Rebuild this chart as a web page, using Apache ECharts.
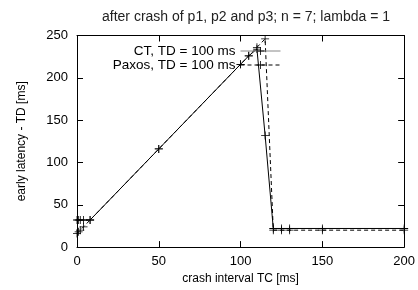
<!DOCTYPE html>
<html><head><meta charset="utf-8">
<script src="https://cdn.jsdelivr.net/npm/echarts@6/dist/echarts.min.js"></script>
<style>html,body{margin:0;padding:0;background:#fff}#c{width:418px;height:290px}</style>
</head><body><div id="c"></div>
<script>
const titleText = 'after crash of p1, p2 and p3; n = 7; lambda = 1';
const xName = 'crash interval TC [ms]';
const yName = 'early latency - TD [ms]';
const crashInterval = [0, 1, 2, 4, 8, 50, 100, 105, 110, 115, 120, 125, 130, 150, 200];
const ctLatency = [32, 32, 32, 32, 32, 116, 216, 226, 234, 132, 22, 22, 22, 22, 22];
const paxosLatency = [16, 18, 20, 24, 32, 116, 216, 226, 236, 246, 20, 20, 20, 20, 20];
const seriesNames = ['CT, TD = 100 ms', 'Paxos, TD = 100 ms'];
const xTicks = [0, 50, 100, 150, 200];
const yTicks = [0, 50, 100, 150, 200, 250];

const FONT = '"Liberation Sans", Arial, sans-serif';
const plus = 'path://M0,4.5H10V5.5H0Z M4.5,0H5.5V10H4.5Z';
const chart = echarts.init(document.getElementById('c'), null, {renderer: 'canvas'});
const pair = (xs, ys) => xs.map((x, i) => [x, ys[i]]);
const axisBase = {
  type: 'value', splitLine: {show: false},
  axisLine: {show: true, onZero: false, lineStyle: {color: '#000', width: 1}},
  axisTick: {show: true, inside: true, length: 6, lineStyle: {color: '#000'}},
};
chart.setOption({
  animation: false,
  textStyle: {fontFamily: FONT},
  title: {text: titleText, left: 241, textAlign: 'center', top: 5,
    textStyle: {fontSize: 14, fontWeight: 'normal', color: '#222', fontFamily: FONT}},
  grid: {left: 77, right: 12, top: 35.5, bottom: 41},
  legend: {
    data: [
      {name: seriesNames[0], lineStyle: {color: '#888', width: 1}},
      {name: seriesNames[1], lineStyle: {color: '#000', width: 1}}
    ],
    orient: 'vertical', align: 'right', right: 132, top: 39,
    itemWidth: 40, itemHeight: 10, itemGap: 0,
    lineStyle: {width: 1},
    textStyle: {fontSize: 13.5, lineHeight: 13, color: '#000', fontFamily: FONT}
  },
  xAxis: [
    Object.assign({}, axisBase, {min: xTicks[0], max: xTicks[xTicks.length - 1], interval: 50, position: 'bottom',
      name: xName, nameLocation: 'middle', nameGap: 24,
      nameTextStyle: {fontSize: 12, color: '#000', fontFamily: FONT},
      axisLabel: {fontSize: 13, color: '#000', margin: 8, fontFamily: FONT}}),
    Object.assign({}, axisBase, {min: xTicks[0], max: xTicks[xTicks.length - 1], interval: 50, position: 'top',
      axisLabel: {show: false}})
  ],
  yAxis: [
    Object.assign({}, axisBase, {min: yTicks[0], max: yTicks[yTicks.length - 1], interval: 50, position: 'left',
      name: yName, nameLocation: 'middle', nameGap: 49,
      nameTextStyle: {fontSize: 12, color: '#000', fontFamily: FONT},
      axisLabel: {fontSize: 13, color: '#000', margin: 9, fontFamily: FONT}}),
    Object.assign({}, axisBase, {min: yTicks[0], max: yTicks[yTicks.length - 1], interval: 50, position: 'right',
      axisLabel: {show: false}})
  ],
  series: [
    {name: seriesNames[0], type: 'line', data: pair(crashInterval, ctLatency),
      symbol: plus, symbolSize: 8, showAllSymbol: true,
      lineStyle: {color: '#000', width: 1, type: 'solid'}, itemStyle: {color: '#000'}},
    {name: seriesNames[1], type: 'line', data: pair(crashInterval, paxosLatency),
      symbol: plus, symbolSize: 8, showAllSymbol: true,
      lineStyle: {color: '#000', width: 1, type: [4, 3]}, itemStyle: {color: '#000'}}
  ]
});
</script></body></html>
